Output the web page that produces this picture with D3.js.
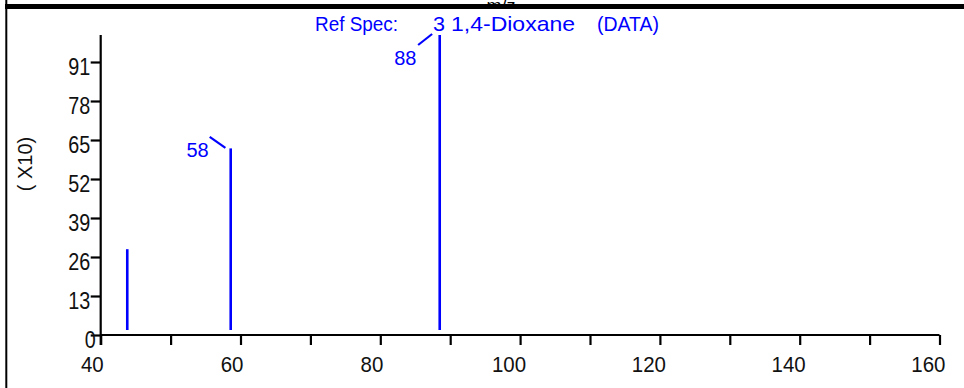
<!DOCTYPE html>
<html>
<head>
<meta charset="utf-8">
<script src="https://cdn.jsdelivr.net/npm/d3@7"></script>
<style>
  html, body { margin: 0; padding: 0; background: #fff; }
  svg { display: block; }
  text { font-family: "Liberation Sans", Arial, sans-serif; }
</style>
</head>
<body>
<svg id="chart" width="964" height="388"></svg>
<script>
// ---- data ----
const peakMz = [43.8, 58.6, 88.5];          // bar positions (m/z)
const peakIntensity = [28.6, 62.2, 100];    // in units of 10 (axis "( X10)")
const peakLabels = ["", "58", "88"];
const xTickValues = [40, 60, 80, 100, 120, 140, 160];
const xMinorTicks = [50, 70, 90, 110, 130, 150];
const yTickValues = [0, 13, 26, 39, 52, 65, 78, 91];
const titleParts = ["Ref Spec:", "3", "1,4-Dioxane", "(DATA)"];
const yAxisLabel = "( X10)";
const topAxisLabel = "m/z";

// ---- layout ----
const svg = d3.select("#chart");
const x = d3.scaleLinear().domain([40, 160]).range([100.7, 939.5]);
const y = d3.scaleLinear().domain([0, 100]).range([335, 35]);
const blue = "#0000ff";

// frame: left vertical border and top thick rule with clipped "m/z"
svg.append("text").attr("x", 501).attr("y", 12).attr("text-anchor", "middle")
  .attr("font-size", 18).attr("fill", "#000").text(topAxisLabel);
svg.append("rect").attr("x", 0).attr("y", 9).attr("width", 964).attr("height", 6).attr("fill", "#fff");
svg.append("line").attr("x1", 5).attr("x2", 964).attr("y1", 6.5).attr("y2", 6.5)
  .attr("stroke", "#000").attr("stroke-width", 5);
svg.append("line").attr("x1", 6.3).attr("x2", 6.3).attr("y1", 0).attr("y2", 388)
  .attr("stroke", "#000").attr("stroke-width", 2);

// x axis
const xAxis = d3.axisBottom(x)
  .tickValues(xTickValues.concat(xMinorTicks))
  .tickSize(10)
  .tickFormat(d => xTickValues.includes(d) ? String(d) : "");
const gx = svg.append("g").attr("transform", `translate(0,${y(0)})`).call(xAxis);
gx.select(".domain").attr("stroke", "#000").attr("stroke-width", 2.2)
  .attr("d", `M${x(40)},0H${x(160)}`);
gx.selectAll(".tick line").attr("stroke", "#000").attr("stroke-width", 2.2);
gx.selectAll(".tick text")
  .attr("font-size", 22).attr("fill", "#111")
  .attr("font-family", "'Open Sans', sans-serif")
  .attr("text-anchor", "end")
  .attr("x", 0).attr("y", 0).attr("dy", 0)
  .attr("transform", d => `translate(${String(d).length === 3 ? 5.5 : 2.5},37) scale(0.93,1)`);

// y axis
const yAxis = d3.axisLeft(y).tickValues(yTickValues).tickSize(10).tickFormat(d => String(d));
const gy = svg.append("g").attr("transform", `translate(${x(40)},0)`).call(yAxis);
gy.select(".domain").attr("stroke", "#000").attr("stroke-width", 2.2)
  .attr("d", `M0,${y(100)}V${y(0) + 10}`);
gy.selectAll(".tick line").attr("stroke", "#000").attr("stroke-width", 2.2);
gy.selectAll(".tick text")
  .attr("font-size", 23).attr("fill", "#111")
  .attr("text-anchor", "end")
  .attr("x", 0).attr("y", 0).attr("dy", 0)
  .attr("transform", d => `translate(${d === 0 ? -5 : -10.5},12) scale(0.86,1)`);

// y axis label
svg.append("text")
  .attr("transform", "translate(32,164) rotate(-90)")
  .attr("text-anchor", "middle").attr("font-size", 20).attr("fill", "#111")
  .text(yAxisLabel);

// title
const titleX = [315, 433, 451, 597];
const titleW = [83, 12, 124, 62];
svg.append("g").selectAll("text").data(titleParts).join("text")
  .attr("x", (d, i) => titleX[i]).attr("y", 31)
  .attr("textLength", (d, i) => titleW[i]).attr("lengthAdjust", "spacingAndGlyphs")
  .attr("font-size", 21).attr("fill", blue)
  .text(d => d);

// bars
svg.append("g").selectAll("line").data(peakMz).join("line")
  .attr("x1", d => x(d)).attr("x2", d => x(d))
  .attr("y1", y(0) - 5).attr("y2", (d, i) => y(peakIntensity[i]))
  .attr("stroke", blue).attr("stroke-width", 2.6);

// peak labels with leader lines (label placement per peak)
const labelLayout = [
  null,
  { tx: -22, ty: 9, l: [-21, -11.6, -5.3, -0.6] },
  { tx: -23.3, ty: 29.7, l: [-21.6, 10, -7.6, -1] }
];
peakMz.forEach((m, i) => {
  const L = labelLayout[i];
  if (!L || !peakLabels[i]) return;
  const bx = x(m), by = y(peakIntensity[i]);
  svg.append("text").attr("x", bx + L.tx).attr("y", by + L.ty)
    .attr("text-anchor", "end").attr("font-size", 20).attr("fill", blue)
    .text(peakLabels[i]);
  svg.append("line")
    .attr("x1", bx + L.l[0]).attr("y1", by + L.l[1])
    .attr("x2", bx + L.l[2]).attr("y2", by + L.l[3])
    .attr("stroke", blue).attr("stroke-width", 2.2);
});
</script>
</body>
</html>
